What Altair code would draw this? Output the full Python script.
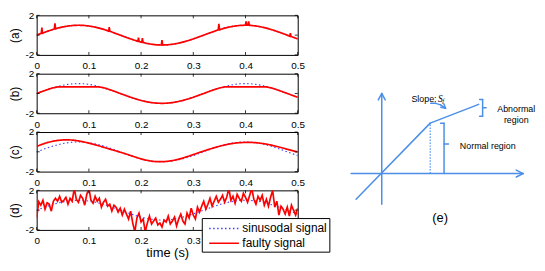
import altair as alt
import pandas as pd

FONT = "Liberation Sans"

# ---------------- data ----------------
t_grid = [round(i * 0.01, 2) for i in range(51)]
t_noise = [round(i * 0.004, 3) for i in range(126)]

sine_vals = [0, 0.195, 0.383, 0.556, 0.707, 0.831, 0.924, 0.981, 1.0, 0.981,
             0.924, 0.831, 0.707, 0.556, 0.383, 0.195, 0, -0.195, -0.383, -0.556,
             -0.707, -0.831, -0.924, -0.981, -1.0, -0.981, -0.924, -0.831, -0.707, -0.556,
             -0.383, -0.195, 0, 0.195, 0.383, 0.556, 0.707, 0.831, 0.924, 0.981,
             1.0, 0.981, 0.924, 0.831, 0.707, 0.556, 0.383, 0.195, 0, -0.195, -0.383]

# (a) spikes on the sinusoid
spike_times = [0.010, 0.035, 0.139, 0.195, 0.2025, 0.240, 0.349, 0.401, 0.406, 0.486]
spike_bases = [0.195, 0.63, 0.40, -0.63, -0.72, -1.0, 0.54, 1.0, 1.0, -0.12]
spike_peaks = [0.75, 1.2, 0.8, -0.25, -0.3, -0.5, 1.15, 1.4, 1.4, 0.2]

# (b) clipped sinusoid
clipped_vals = [0, 0.195, 0.383, 0.556, 0.66, 0.66, 0.66, 0.66, 0.66, 0.66,
                0.66, 0.66, 0.66, 0.556, 0.383, 0.195, 0, -0.195, -0.383, -0.556,
                -0.707, -0.831, -0.924, -0.981, -1.0, -0.981, -0.924, -0.831, -0.707, -0.556,
                -0.383, -0.195, 0, 0.195, 0.383, 0.556, 0.66, 0.66, 0.66, 0.66,
                0.66, 0.66, 0.66, 0.66, 0.66, 0.556, 0.383, 0.195, 0, -0.195, -0.383]

# (c) shifted / distorted sinusoid
shifted_vals = [0.55, 0.75, 0.93, 1.06, 1.15, 1.2, 1.21, 1.18, 1.1, 1.0,
                0.88, 0.74, 0.59, 0.43, 0.27, 0.12, -0.04, -0.2, -0.38, -0.55,
                -0.72, -0.85, -0.95, -1.0, -1.0, -0.97, -0.89, -0.78, -0.63, -0.46,
                -0.28, -0.1, 0.08, 0.25, 0.41, 0.56, 0.69, 0.8, 0.88, 0.93,
                0.95, 0.95, 0.92, 0.86, 0.78, 0.67, 0.54, 0.4, 0.26, 0.12, -0.02]

# (d) noisy signal
noisy_vals = [-0.75, 0.85, 0.5, 1.0, 0.1, 0.75, 0.6, -0.1, 0.9, 1.2,
              0.9, 1.4, 0.8, 1.0, 1.3, 0.6, 1.2, 0.9, 2.2, 1.1,
              0.8, 1.5, 1.2, 0.5, 1.6, 2.2, 1.0, 0.7, 1.4, 0.9,
              1.2, 0.3, 0.8, 1.1, 0.4, 0.6, -0.1, 0.5, 0.3, -0.2,
              0.2, -0.5, 0.1, -0.4, -0.9, -0.1, -1.3, -2.2, -0.8, -0.3,
              -1.2, -0.9, -2.2, -1.3, -0.6, -1.4, -1.1, -0.8, -1.5, -1.3,
              -1.7, -1.0, -1.2, -0.6, -1.4, -1.1, -0.7, -1.6, -0.9, -0.4,
              -1.1, -1.4, -0.3, -0.8, 0.2, -0.5, -0.9, 0.3, -0.2, 0.4,
              0.9, 0.1, 0.6, 1.2, 0.4, 0.9, 1.4, 0.8, 1.1, 1.5,
              0.8, 1.3, 2.2, 1.0, 1.4, 0.7, 1.6, 1.2, 0.9, 1.7,
              1.3, 0.8, 1.5, 2.2, 1.1, 0.6, 1.4, 1.0, 1.5, 0.5,
              1.1, 0.4, 1.3, 2.0, 0.3, 0.9, -0.5, 0.4, 0.1, -0.4,
              0.3, -0.6, 0.5, 0.0, -0.5, 0.2]

x_ticks = [0, 0.1, 0.2, 0.3, 0.4, 0.5]
y_ticks = [-2, 0, 2]
panel_labels = ["(a)", "(b)", "(c)", "(d)"]
series_names = ["sinusodal signal", "faulty signal"]
series_colors = ["#3f3fff", "#ff0000"]

# diagram (e): segments in diagram units
seg_x = [0, -0.35, 0.35, -3.1, 13.6, 13.6, -2.6, 4.9, 6.3, 5.95, 6.3, 10.2, 9.9, 9.9, 10.2,
         4.95, 5.45, 5.95, 6.45, 6.45]
seg_y = [-3.1, 7.45, 7.45, 0, 0.35, -0.35, -2.6, 5.1, 0, 5.1, 3.0, 5.8, 7.5, 5.8, 6.65,
         7.1, 7.1, 6.95, 6.6, 6.6]
seg_x2 = [0, 0, 0, 14.3, 14.3, 14.3, 4.9, 9.8, 6.3, 6.3, 6.75, 10.2, 10.2, 10.2, 10.55,
          5.45, 5.95, 6.45, 6.28, 5.97]
seg_y2 = [8.1, 8.1, 8.1, 0, 0, 0, 5.1, 7.0, 5.1, 5.1, 3.0, 7.5, 7.5, 5.8, 6.65,
          7.1, 6.95, 6.6, 7.05, 6.7]
dotted_x = [4.9]
dotted_y = [0]
dotted_y2 = [5.1]

txt_left = ["Slope:", "Normal region"]
txt_left_x = [3.0, 7.9]
txt_left_y = [7.5, 2.8]
txt_center = ["Abnormal", "region"]
txt_center_x = [13.6, 13.6]
txt_center_y = [6.55, 5.45]
txt_italic = ["S"]
txt_italic_x = [5.7]
txt_italic_y = [7.55]
txt_sub = ["f"]
txt_sub_x = [6.12]
txt_sub_y = [7.35]
txt_e = ["(e)"]
txt_e_x = [5.9]
txt_e_y = [-4.5]

# ---------------- build ----------------
W, H, GAP = 264, 40, 19

pts = [(tt, vv) for tt, vv in zip(t_grid, sine_vals)
       if all(abs(tt - s) > 0.0016 for s in spike_times)]
for s, b, p in zip(spike_times, spike_bases, spike_peaks):
    pts += [(s - 0.0012, b), (s, p), (s + 0.0012, b)]
pts.sort()
spiky_t = [p[0] for p in pts]
spiky_v = [p[1] for p in pts]

red_series = [
    (spiky_t, spiky_v),
    (t_grid, clipped_vals),
    (t_grid, shifted_vals),
    (t_noise, noisy_vals),
]

color_scale = alt.Scale(domain=series_names, range=series_colors)
dash_scale = alt.Scale(domain=series_names, range=[[1.5, 2.5], [1, 0]])
xscale = alt.Scale(domain=[0, 0.5], nice=False, zero=False)
yscale = alt.Scale(domain=[-2, 2], nice=False)

legend = alt.Legend(
    orient="none", legendX=167, legendY=28, title=None,
    symbolType="M-2,0H2", symbolSize=225, symbolStrokeWidth=1.5, symbolOffset=12,
    labelFont=FONT, labelFontSize=12, labelColor="black", labelOffset=10,
    fillColor="white", strokeColor="black", padding=2, rowPadding=0,
)


def panel(i):
    last = i == 3
    xax = dict(values=x_ticks, format="~g", labelFlush=False, ticks=False, tickSize=0,
               domain=False, grid=False, labelPadding=6, labelFontSize=10,
               labelFont=FONT, labelColor="black")
    if last:
        xax.update(title="time (s)", titleFont=FONT, titleFontSize=13,
                   titleFontWeight="normal", titlePadding=1, titleColor="black")
    else:
        xax.update(title=None)
    x = alt.X("t:Q", scale=xscale, axis=alt.Axis(**xax))
    y = alt.Y("v:Q", scale=yscale,
              axis=alt.Axis(values=y_ticks, labelExpr="'' + datum.value", ticks=False,
                            tickSize=0, domain=False, grid=False, labelPadding=3,
                            labelFontSize=10, labelFont=FONT, labelColor="black",
                            title=panel_labels[i], titleFont=FONT, titleFontSize=12,
                            titleFontWeight="normal", titlePadding=3, titleColor="black"))
    leg = legend if last else None
    blue_df = pd.DataFrame({"t": t_grid, "v": sine_vals, "s": series_names[0]})
    rt, rv = red_series[i]
    red_df = pd.DataFrame({"t": rt, "v": rv, "s": series_names[1]})
    blue = alt.Chart(blue_df).mark_line(strokeWidth=1.1, clip=True).encode(
        x=x, y=y,
        color=alt.Color("s:N", scale=color_scale, legend=leg),
        strokeDash=alt.StrokeDash("s:N", scale=dash_scale, legend=leg),
    )
    red = alt.Chart(red_df).mark_line(strokeWidth=1.7, clip=True).encode(
        x=x, y=y,
        color=alt.Color("s:N", scale=color_scale, legend=leg),
        strokeDash=alt.StrokeDash("s:N", scale=dash_scale, legend=leg),
    )
    xt = pd.DataFrame({"t": x_ticks})
    yt = pd.DataFrame({"v": y_ticks})
    tick_b = alt.Chart(xt).mark_rule(color="black", strokeWidth=0.8).encode(
        x=alt.X("t:Q", scale=xscale), y=alt.value(H), y2=alt.value(H - 3))
    tick_t = alt.Chart(xt).mark_rule(color="black", strokeWidth=0.8).encode(
        x=alt.X("t:Q", scale=xscale), y=alt.value(0), y2=alt.value(3))
    tick_l = alt.Chart(yt).mark_rule(color="black", strokeWidth=0.8).encode(
        y=alt.Y("v:Q", scale=yscale), x=alt.value(0), x2=alt.value(3))
    tick_r = alt.Chart(yt).mark_rule(color="black", strokeWidth=0.8).encode(
        y=alt.Y("v:Q", scale=yscale), x=alt.value(W), x2=alt.value(W - 3))
    return alt.layer(blue, red, tick_b, tick_t, tick_l, tick_r).properties(width=W, height=H)


left = alt.vconcat(*[panel(i) for i in range(4)], spacing=GAP, bounds="flush").resolve_scale(
    color="independent", strokeDash="independent")

# diagram
DW = 196
DH = 4 * H + 3 * GAP
dx = alt.Scale(domain=[-4.0, -4.0 + DW / 10], nice=False, zero=False)
dy = alt.Scale(domain=[16.0 - DH / 10, 16.0], nice=False, zero=False)
BLUE = "#4b8fe8"

seg_df = pd.DataFrame({"x": seg_x, "y": seg_y, "x2": seg_x2, "y2": seg_y2})
segs = alt.Chart(seg_df).mark_rule(color=BLUE, strokeWidth=1.5, strokeCap="round").encode(
    x=alt.X("x:Q", scale=dx, axis=None), y=alt.Y("y:Q", scale=dy, axis=None),
    x2="x2:Q", y2="y2:Q")
dot_df = pd.DataFrame({"x": dotted_x, "y": dotted_y, "y2": dotted_y2})
dots = alt.Chart(dot_df).mark_rule(color=BLUE, strokeWidth=1.2, strokeDash=[1.5, 1.5]).encode(
    x=alt.X("x:Q", scale=dx, axis=None), y=alt.Y("y:Q", scale=dy, axis=None), y2="y2:Q")


def texts(labels, xs, ys, font=FONT, **kw):
    df = pd.DataFrame({"x": xs, "y": ys, "txt": labels})
    return alt.Chart(df).mark_text(font=font, color="black", baseline="middle", **kw).encode(
        x=alt.X("x:Q", scale=dx, axis=None), y=alt.Y("y:Q", scale=dy, axis=None), text="txt:N")


diagram = alt.layer(
    segs, dots,
    texts(txt_left, txt_left_x, txt_left_y, align="left", fontSize=9),
    texts(txt_center, txt_center_x, txt_center_y, align="center", fontSize=9),
    texts(txt_italic, txt_italic_x, txt_italic_y, align="left", fontSize=9.5, fontStyle="italic",
          font="Liberation Serif"),
    texts(txt_sub, txt_sub_x, txt_sub_y, align="left", fontSize=7, fontStyle="italic",
          font="Liberation Serif"),
    texts(txt_e, txt_e_x, txt_e_y, align="center", fontSize=13),
).properties(width=DW, height=DH, view=alt.ViewBackground(stroke="transparent"))

chart = alt.hconcat(left, diagram, spacing=11).properties(
    padding=0, background="white"
).configure_view(stroke="black", strokeWidth=1)

chart.save("out.html", embed_options={"renderer": "svg", "actions": False})
